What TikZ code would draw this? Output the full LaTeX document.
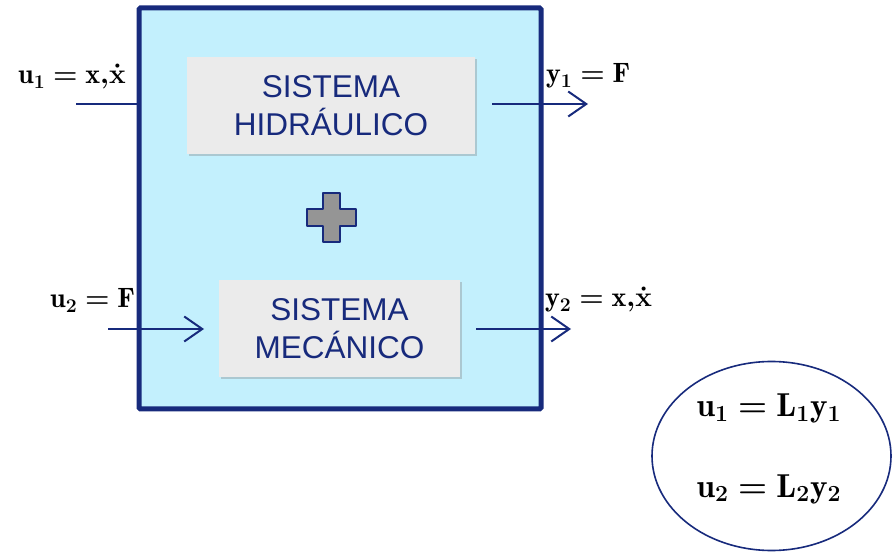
\documentclass[tikz,border=0pt]{standalone}
\usepackage{amsmath}
\usepackage{graphicx}
\usepackage{fontspec}
\newfontfamily\boxfont{Liberation Sans}
\usetikzlibrary{shadows,arrows.meta,shapes.geometric}
\definecolor{navy}{HTML}{172A7C}
\definecolor{lightblue}{HTML}{C3F0FD}
\definecolor{boxgray}{HTML}{EBEBEB}
\definecolor{plusgray}{HTML}{959595}
\newcommand\bsub[1]{\boldsymbol{#1}}
\newcommand\sidelab[1]{\scalebox{1.35}{#1}}
\newcommand\elllab[1]{\scalebox{1.6}{#1}}
\newcommand\labUone{$\mathbf{u}_{\bsub{1}}\boldsymbol{=}\mathbf{x}\boldsymbol{,}\boldsymbol{\dot{\mathbf{x}}}$}
\newcommand\labYone{$\mathbf{y}_{\bsub{1}}\boldsymbol{=}\mathbf{F}$}
\newcommand\labUtwo{$\mathbf{u}_{\bsub{2}}\boldsymbol{=}\mathbf{F}$}
\newcommand\labYtwo{$\mathbf{y}_{\bsub{2}}\boldsymbol{=}\mathbf{x}\boldsymbol{,}\boldsymbol{\dot{\mathbf{x}}}$}
\newcommand\labEone{$\mathbf{u}_{\bsub{1}}\boldsymbol{=}\mathbf{L}_{\bsub{1}}\mathbf{y}_{\bsub{1}}$}
\newcommand\labEtwo{$\mathbf{u}_{\bsub{2}}\boldsymbol{=}\mathbf{L}_{\bsub{2}}\mathbf{y}_{\bsub{2}}$}
\tikzset{
  sysbox/.style={fill=boxgray, draw=none, minimum width=288pt, minimum height=97pt,
    align=center, font=\boxfont\fontsize{31.5}{38}\selectfont, text=navy,
    drop shadow={shadow xshift=2pt, shadow yshift=-2pt, opacity=0.35, fill=gray}},
  sig/.style={draw=navy, line width=2pt},
  sigarrow/.style={sig, -{Straight Barb[length=18pt,width=25pt,line width=2pt]}},
  mlabel/.style={font=\fontsize{20.74}{25}\selectfont, text=black, inner sep=0pt},
}
\begin{document}
\begin{tikzpicture}[x=1pt,y=-1pt]
\useasboundingbox (0,0) rectangle (895,553);
\node[draw=navy, line width=5pt, fill=lightblue, minimum width=402pt, minimum height=401pt, inner sep=0pt, rounded corners=1.5pt] (main) at (340,208.5) {};
\node[sysbox] (hyd) at (331,105.5) {SISTEMA\\HIDRÁULICO};
\node[sysbox, minimum width=241pt] (mec) at (339.5,328.5) {SISTEMA\\MECÁNICO};
\coordinate (pc) at (331.5,217.5);
\draw[navy, line width=2pt, fill=plusgray, line join=round]
  ([shift={(-8.5,-24.5)}]pc) -- ([shift={(8.5,-24.5)}]pc) -- ([shift={(8.5,-8.5)}]pc) -- ([shift={(24.5,-8.5)}]pc)
  -- ([shift={(24.5,8.5)}]pc) -- ([shift={(8.5,8.5)}]pc) -- ([shift={(8.5,24.5)}]pc) -- ([shift={(-8.5,24.5)}]pc)
  -- ([shift={(-8.5,8.5)}]pc) -- ([shift={(-24.5,8.5)}]pc) -- ([shift={(-24.5,-8.5)}]pc) -- ([shift={(-8.5,-8.5)}]pc) -- cycle;
\coordinate (u1s) at (76,104);
\coordinate (u1e) at (139,104);
\coordinate (y1s) at (492,104);
\coordinate (y1e) at (588,104);
\coordinate (u2s) at (108,329);
\coordinate (u2e) at (204,329);
\coordinate (y2s) at (476,329);
\coordinate (y2e) at (571,329);
\draw[sig] (u1s) -- (u1e);
\draw[sigarrow] (y1s) -- (y1e);
\draw[sigarrow] (u2s) -- (u2e);
\draw[sigarrow] (y2s) -- (y2e);
\node[mlabel, anchor=base west] (lu1) at (18,84) {\sidelab{\labUone}};
\node[mlabel, anchor=base west] (ly1) at (546,83) {\sidelab{\labYone}};
\node[mlabel, anchor=base west] (lu2) at (50,308) {\sidelab{\labUtwo}};
\node[mlabel, anchor=base west] (ly2) at (545,307) {\sidelab{\labYtwo}};
\node[ellipse, draw=navy, line width=1.6pt, minimum width=239pt, minimum height=189pt, inner sep=0pt] (ell) at (771.5,456) {};
\node[mlabel, anchor=base] (e1) at (769,417) {\elllab{\labEone}};
\node[mlabel, anchor=base] (e2) at (769,497) {\elllab{\labEtwo}};
\end{tikzpicture}
\end{document}
